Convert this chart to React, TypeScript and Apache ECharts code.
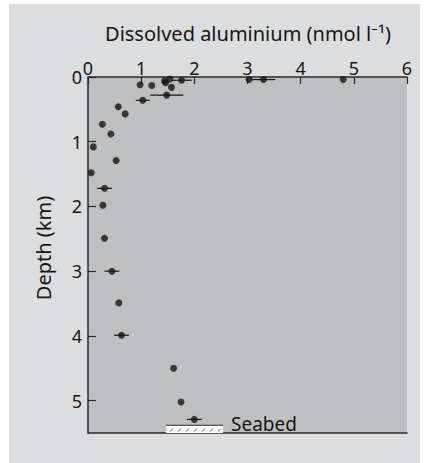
import React, { useEffect, useRef } from "react";
import * as echarts from "echarts";

// Dissolved aluminium (nmol l^-1) versus depth (km)
const alValues = [0.98, 1.2, 1.44, 1.46, 1.54, 1.76, 1.57, 1.48, 1.03, 3.03, 3.3, 4.8, 0.57, 0.7, 0.27, 0.43, 0.1, 0.53, 0.06, 0.31, 0.28, 0.31, 0.45, 0.58, 0.63, 1.61, 1.75, 2.0];
const depthValues = [0.12, 0.13, 0.06, 0.09, 0.03, 0.05, 0.16, 0.28, 0.36, 0.04, 0.04, 0.04, 0.46, 0.57, 0.73, 0.88, 1.08, 1.29, 1.48, 1.72, 1.98, 2.49, 3.0, 3.49, 3.99, 4.5, 5.02, 5.29];
const errValues = [0, 0, 0, 0, 0, 0.19, 0, 0.31, 0.13, 0, 0.22, 0, 0, 0, 0, 0, 0, 0, 0, 0.14, 0, 0, 0.14, 0, 0.14, 0, 0, 0.14];

const seabed = { alFrom: 1.47, alTo: 2.54, depthTop: 5.38, depthBottom: 5.5, label: "Seabed" };

const xTitle = "Dissolved aluminium (nmol l\u207B\u00B9)";
const yTitle = "Depth (km)";

const FONT = "'Noto Sans', 'Open Sans', sans-serif";
const INK = "#151515";
const AXIS = "#2a2a2a";

export default function App() {
  const ref = useRef<HTMLDivElement>(null);
  useEffect(() => {
    if (!ref.current) return;
    const chart = echarts.init(ref.current, undefined, { renderer: "svg" });
    const points = alValues.map((v, i) => [v, depthValues[i]]);
    const bars = alValues
      .map((v, i) => [v, depthValues[i], errValues[i]])
      .filter((d) => d[2] > 0);

    const axisLineStyle = { color: AXIS, width: 1.5 };
    chart.setOption({
      animation: false,
      backgroundColor: "#ffffff",
      graphic: [
        {
          type: "rect",
          shape: { x: 9, y: 4, width: 411, height: 459 },
          style: { fill: "#dcddde" },
          z: -10,
          silent: true,
        },
        {
          type: "text",
          x: 248,
          y: 33,
          style: { text: xTitle, fontSize: 20, fontFamily: FONT, fill: INK, align: "center", verticalAlign: "middle" },
        },
        {
          type: "text",
          x: 43,
          y: 248,
          rotation: Math.PI / 2,
          style: { text: yTitle, fontSize: 20, fontFamily: FONT, fill: INK, align: "center", verticalAlign: "middle" },
        },
      ],
      grid: {
        left: 88,
        top: 77,
        width: 319,
        height: 356,
        show: true,
        backgroundColor: "#bebfc0",
        borderWidth: 0,
      },
      xAxis: [
        {
          type: "value",
          position: "top",
          min: 0,
          max: 6,
          interval: 1,
          axisLine: { show: true, onZero: false, lineStyle: axisLineStyle },
          axisTick: { show: true, inside: true, length: 7, lineStyle: { color: AXIS, width: 1.2 } },
          axisLabel: { fontSize: 18, fontFamily: FONT, color: INK, margin: 0 },
          splitLine: { show: false },
        },
        {
          type: "value",
          position: "bottom",
          min: 0,
          max: 6,
          interval: 1,
          axisLine: { show: true, onZero: false, lineStyle: axisLineStyle },
          axisTick: { show: false },
          axisLabel: { show: false },
          splitLine: { show: false },
        },
      ],
      yAxis: {
        type: "value",
        inverse: true,
        min: 0,
        max: 5.5,
        interval: 1,
        axisLine: { show: true, onZero: false, lineStyle: axisLineStyle },
        axisTick: { show: true, inside: true, length: 8, lineStyle: { color: AXIS, width: 1.2 } },
        axisLabel: {
          fontSize: 18,
          fontFamily: FONT,
          color: INK,
          margin: 6,
          showMaxLabel: false,
          formatter: (v: number) => (Number.isInteger(v) ? String(v) : ""),
        },
        splitLine: { show: false },
      },
      series: [
        {
          type: "custom",
          name: "seabed",
          data: [[seabed.alFrom, seabed.alTo, seabed.depthTop, seabed.depthBottom]],
          renderItem: (params: any, api: any) => {
            const p0 = api.coord([api.value(0), api.value(2)]);
            const p1 = api.coord([api.value(1), api.value(3)]);
            const children: any[] = [
              {
                type: "rect",
                shape: { x: p0[0], y: p0[1], width: p1[0] - p0[0], height: p1[1] - p0[1] },
                style: { fill: "#ffffff" },
              },
              {
                type: "line",
                shape: { x1: p0[0], y1: p0[1], x2: p1[0], y2: p0[1] },
                style: { stroke: AXIS, lineWidth: 1.2 },
              },
            ];
            for (let x = p0[0] + 4; x < p1[0] - 2; x += 8) {
              children.push({
                type: "line",
                shape: { x1: x, y1: p1[1] - 1.5, x2: x + 2.5, y2: p0[1] + 3.5 },
                style: { stroke: "#555", lineWidth: 1 },
              });
            }
            children.push({
              type: "text",
              x: p1[0] + 8,
              y: (p0[1] + p1[1]) / 2 - 5,
              style: { text: seabed.label, fontSize: 19, fontFamily: FONT, fill: INK, align: "left", verticalAlign: "middle" },
            });
            return { type: "group", children };
          },
          z: 3,
          silent: true,
        },
        {
          type: "custom",
          name: "error",
          data: bars,
          renderItem: (params: any, api: any) => {
            const x = api.value(0);
            const y = api.value(1);
            const e = api.value(2);
            const a = api.coord([x - e, y]);
            const b = api.coord([x + e, y]);
            return {
              type: "line",
              shape: { x1: a[0], y1: a[1], x2: b[0], y2: b[1] },
              style: { stroke: INK, lineWidth: 1.2 },
            };
          },
          z: 4,
          silent: true,
        },
        {
          type: "scatter",
          name: "Al",
          data: points,
          symbol: "circle",
          symbolSize: 7,
          itemStyle: { color: INK },
          z: 5,
        },
      ],
    });
    return () => chart.dispose();
  }, []);
  return (
    <div
      ref={ref}
      style={{ position: "absolute", left: 0, top: 0, width: 427, height: 463 }}
    />
  );
}
